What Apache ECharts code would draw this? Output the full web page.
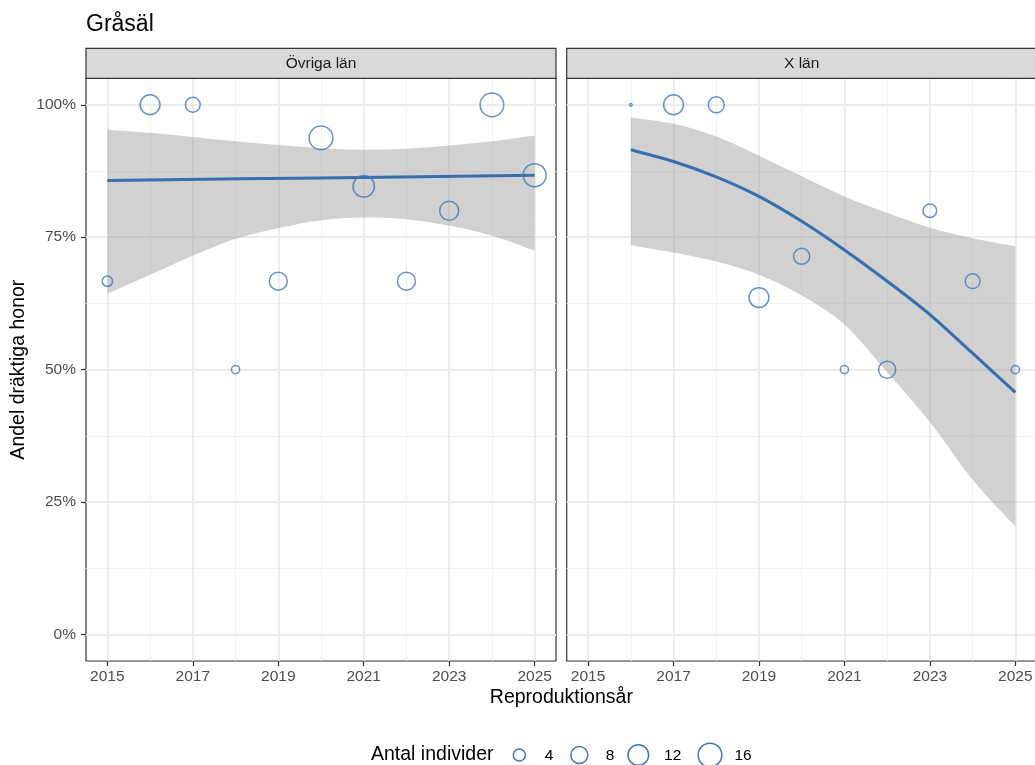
<!DOCTYPE html>
<html>
<head>
<meta charset="utf-8">
<title>Gråsäl</title>
<script src="https://cdn.jsdelivr.net/npm/echarts@6/dist/echarts.min.js"></script>
<style>
  html, body { margin: 0; padding: 0; background: #ffffff; }
  #chart { width: 1035px; height: 765px; }
</style>
</head>
<body>
<div id="chart"></div>
<script>
// ---- Data -------------------------------------------------------------
const panelNames = ['Övriga län', 'X län'];

// Övriga län: share of pregnant females (%) and number of individuals
const ovrigaYears = [2015, 2016, 2017, 2018, 2019, 2020, 2021, 2022, 2023, 2024, 2025];
const ovrigaAndel = [66.7, 100, 100, 50, 66.7, 93.75, 84.6, 66.7, 80, 100, 86.7];
const ovrigaAntal = [3, 11, 6, 2, 9, 16, 13, 9, 10, 16, 15];

// X län
const xLanYears = [2016, 2017, 2018, 2019, 2020, 2021, 2022, 2023, 2024, 2025];
const xLanAndel = [100, 100, 100, 63.6, 71.4, 50, 50, 80, 66.7, 50];
const xLanAntal = [1, 11, 7, 11, 7, 2, 8, 5, 6, 2];

// Fitted trend (%) with confidence band
const ovrigaFitYears = [2015, 2020, 2025];
const ovrigaFit = [85.7, 86.2, 86.7];
const ovrigaBandYears = [2015, 2016, 2017, 2018, 2019, 2020, 2021, 2022, 2023, 2024, 2025];
const ovrigaUpper = [95.3, 94.7, 93.9, 93.1, 92.4, 91.8, 91.5, 91.7, 92.3, 93.1, 94.2];
const ovrigaLower = [64.3, 67.9, 71.5, 74.7, 76.7, 78.2, 78.7, 78.4, 77.2, 75.3, 72.5];

const xLanFitYears = [2016, 2017, 2018, 2019, 2020, 2021, 2022, 2023, 2024, 2025];
const xLanFit = [91.5, 89.3, 86.4, 82.7, 78.0, 72.6, 66.7, 60.4, 53.1, 45.7];
const xLanUpper = [97.6, 96.4, 94.0, 90.4, 86.5, 82.7, 79.6, 76.8, 74.8, 73.3];
const xLanLower = [73.5, 72.1, 70.4, 67.9, 64.0, 58.5, 49.5, 40.1, 29.2, 20.4];

// Axis breaks
const xTickYears = [2015, 2017, 2019, 2021, 2023, 2025];
const xMinorYears = [2016, 2018, 2020, 2022, 2024];
const yTicks = [0, 25, 50, 75, 100];
const yMinor = [12.5, 37.5, 62.5, 87.5];

// Size legend
const legendBreaks = [4, 8, 12, 16];

// ---- Styling / layout -------------------------------------------------
const FONT = '"Liberation Sans", Arial, Helvetica, sans-serif';
const BLUE_LINE = '#376eaf';
const BLUE_PT = '#4575b6';
const RIBBON = 'rgba(153,153,153,0.45)';
const GRID_MAJOR = '#ebebeb';
const GRID_MINOR = '#f1f1f1';
const BORDER = '#333333';

const panelTop = 78.3;
const panelH = 582.7;
const panelW = 470;
const panelLeft = [86, 566.7];
const stripH = 30;

// point size: area-style scaling of counts between the smallest and largest group
const allCounts = ovrigaAntal.concat(xLanAntal);
const nMin = Math.min.apply(null, allCounts);
const nMax = Math.max.apply(null, allCounts);
const PT_STROKE = 1.5;
function outerRadius(n) {
  const t = Math.max(0, (n - nMin) / (nMax - nMin));
  return 2.1 * (1 + 5 * Math.sqrt(t));
}
function symbolDiameter(n) {
  return Math.max(1, 2 * (outerRadius(n) - PT_STROKE / 2));
}

// Catmull-Rom curve through pixel points, as SVG path segments (no initial move)
function curveSegments(p) {
  let d = '';
  for (let i = 0; i < p.length - 1; i++) {
    const p0 = p[Math.max(0, i - 1)], p1 = p[i], p2 = p[i + 1], p3 = p[Math.min(p.length - 1, i + 2)];
    const c1x = p1[0] + (p2[0] - p0[0]) / 6, c1y = p1[1] + (p2[1] - p0[1]) / 6;
    const c2x = p2[0] - (p3[0] - p1[0]) / 6, c2y = p2[1] - (p3[1] - p1[1]) / 6;
    d += ' C ' + c1x + ' ' + c1y + ' ' + c2x + ' ' + c2y + ' ' + p2[0] + ' ' + p2[1];
  }
  return d;
}

// ---- Axes -------------------------------------------------------------
const yearLabel = v => String(v);
function mainX(gi) {
  return {
    type: 'value', gridIndex: gi, min: 2014.5, max: 2025.5, position: 'bottom',
    axisLine: { show: false, onZero: false },
    axisTick: { show: true, customValues: xTickYears, length: 5, lineStyle: { color: BORDER, width: 1.2 } },
    axisLabel: { show: true, customValues: xTickYears, margin: 8, color: '#4d4d4d', fontSize: 15.5, fontFamily: FONT,
      formatter: yearLabel },
    splitLine: { show: true, lineStyle: { color: GRID_MAJOR, width: 1.8 } }
  };
}
function minorX(gi) {
  return {
    type: 'value', gridIndex: gi, min: 2014.5, max: 2025.5, position: 'bottom',
    axisLine: { show: false, onZero: false },
    axisTick: { show: false, customValues: xMinorYears },
    axisLabel: { show: false, customValues: xMinorYears },
    splitLine: { show: true, lineStyle: { color: GRID_MINOR, width: 1 } }
  };
}
function mainY(gi, labels) {
  return {
    type: 'value', gridIndex: gi, min: -5, max: 105, position: 'left',
    axisLine: { show: false, onZero: false },
    axisTick: { show: labels, customValues: yTicks, length: 5, lineStyle: { color: BORDER, width: 1.2 } },
    axisLabel: { show: labels, customValues: yTicks, margin: 10, color: '#4d4d4d', fontSize: 15.5, fontFamily: FONT,
      formatter: v => v + '%' },
    splitLine: { show: true, lineStyle: { color: GRID_MAJOR, width: 1.8 } }
  };
}
function minorY(gi) {
  return {
    type: 'value', gridIndex: gi, min: -5, max: 105, position: 'left',
    axisLine: { show: false, onZero: false },
    axisTick: { show: false, customValues: yMinor },
    axisLabel: { show: false, customValues: yMinor },
    splitLine: { show: true, lineStyle: { color: GRID_MINOR, width: 1 } }
  };
}

// ---- Series builders --------------------------------------------------
// confidence band: upper edge left->right, lower edge right->left, closed
function bandSeries(xi, yi, bx, lower, upper) {
  return {
    type: 'custom', xAxisIndex: xi, yAxisIndex: yi, silent: true, z: 2,
    data: [[bx[0], upper[0]]],
    renderItem: (params, api) => {
      const up = bx.map((x, i) => api.coord([x, upper[i]]));
      const lo = bx.map((x, i) => api.coord([x, lower[i]])).reverse();
      const d = 'M ' + up[0][0] + ' ' + up[0][1] + curveSegments(up) +
        ' L ' + lo[0][0] + ' ' + lo[0][1] + curveSegments(lo) + ' Z';
      return { type: 'path', shape: { pathData: d }, style: { fill: RIBBON, stroke: null } };
    }
  };
}
function fitSeries(xi, yi, fx, fy) {
  return {
    type: 'custom', xAxisIndex: xi, yAxisIndex: yi, silent: true, z: 3,
    data: [[fx[0], fy[0]]],
    renderItem: (params, api) => {
      const pts = fx.map((x, i) => api.coord([x, fy[i]]));
      const d = 'M ' + pts[0][0] + ' ' + pts[0][1] + curveSegments(pts);
      return { type: 'path', shape: { pathData: d },
        style: { fill: null, stroke: BLUE_LINE, lineWidth: 3, lineCap: 'butt', lineJoin: 'round' } };
    }
  };
}
function pointSeries(xi, yi, xs, andel, antal) {
  return {
    type: 'scatter', xAxisIndex: xi, yAxisIndex: yi,
    data: xs.map((x, i) => [x, andel[i], antal[i]]),
    symbol: 'circle',
    symbolSize: d => symbolDiameter(d[2]),
    itemStyle: { color: 'rgba(0,0,0,0)', borderColor: BLUE_PT, borderWidth: PT_STROKE },
    z: 4
  };
}

// ---- Graphic elements: title, facet strips, axis titles, size legend --
const graphics = [
  { type: 'text', x: 86, y: 25, style: { text: 'Gråsäl', fontSize: 23, fontFamily: FONT, fill: '#000',
      align: 'left', verticalAlign: 'middle' } },
  { type: 'text', x: (panelLeft[0] + panelLeft[1] + panelW) / 2, y: 698,
    style: { text: 'Reproduktionsår', fontSize: 19.5, fontFamily: FONT, fill: '#000', align: 'center', verticalAlign: 'middle' } },
  { type: 'text', x: 18.5, y: panelTop + panelH / 2, rotation: Math.PI / 2,
    style: { text: 'Andel dräktiga honor', fontSize: 19.5, fontFamily: FONT, fill: '#000', align: 'center', verticalAlign: 'middle' } }
];
panelNames.forEach((name, i) => {
  graphics.push({ type: 'rect', shape: { x: panelLeft[i], y: panelTop - stripH, width: panelW, height: stripH },
    style: { fill: '#d9d9d9', stroke: BORDER, lineWidth: 1.2 }, z: 10 });
  graphics.push({ type: 'text', x: panelLeft[i] + panelW / 2, y: panelTop - stripH / 2, z: 11,
    style: { text: name, fontSize: 15.5, fontFamily: FONT, fill: '#1a1a1a', align: 'center', verticalAlign: 'middle' } });
});
// size legend
const legendY = 755;
graphics.push({ type: 'text', x: 371, y: legendY - 0.5,
  style: { text: 'Antal individer', fontSize: 19.5, fontFamily: FONT, fill: '#000', align: 'left', verticalAlign: 'middle' } });
const legendKeyX = [519.3, 579.3, 638.3, 710];
const legendLabelX = [549, 610, 672.7, 743];
legendBreaks.forEach((n, i) => {
  graphics.push({ type: 'circle', shape: { cx: legendKeyX[i], cy: legendY, r: outerRadius(n) - PT_STROKE / 2 },
    style: { fill: 'none', stroke: BLUE_PT, lineWidth: PT_STROKE } });
  graphics.push({ type: 'text', x: legendLabelX[i], y: legendY + 0.5,
    style: { text: String(n), fontSize: 15.5, fontFamily: FONT, fill: '#000', align: 'center', verticalAlign: 'middle' } });
});

// ---- Chart ------------------------------------------------------------
const chart = echarts.init(document.getElementById('chart'), null, { renderer: 'canvas' });
chart.setOption({
  backgroundColor: '#ffffff',
  animation: false,
  textStyle: { fontFamily: FONT },
  grid: panelLeft.map(l => ({
    left: l, top: panelTop, width: panelW, height: panelH,
    show: true, backgroundColor: '#ffffff', borderColor: BORDER, borderWidth: 1.2,
    containLabel: false, outerBoundsMode: 'none'
  })),
  xAxis: [mainX(0), minorX(0), mainX(1), minorX(1)],
  yAxis: [mainY(0, true), minorY(0), mainY(1, false), minorY(1)],
  series: [
    bandSeries(0, 0, ovrigaBandYears, ovrigaLower, ovrigaUpper),
    fitSeries(0, 0, ovrigaFitYears, ovrigaFit),
    pointSeries(0, 0, ovrigaYears, ovrigaAndel, ovrigaAntal),
    bandSeries(2, 2, xLanFitYears, xLanLower, xLanUpper),
    fitSeries(2, 2, xLanFitYears, xLanFit),
    pointSeries(2, 2, xLanYears, xLanAndel, xLanAntal)
  ],
  graphic: graphics
});
</script>
</body>
</html>
